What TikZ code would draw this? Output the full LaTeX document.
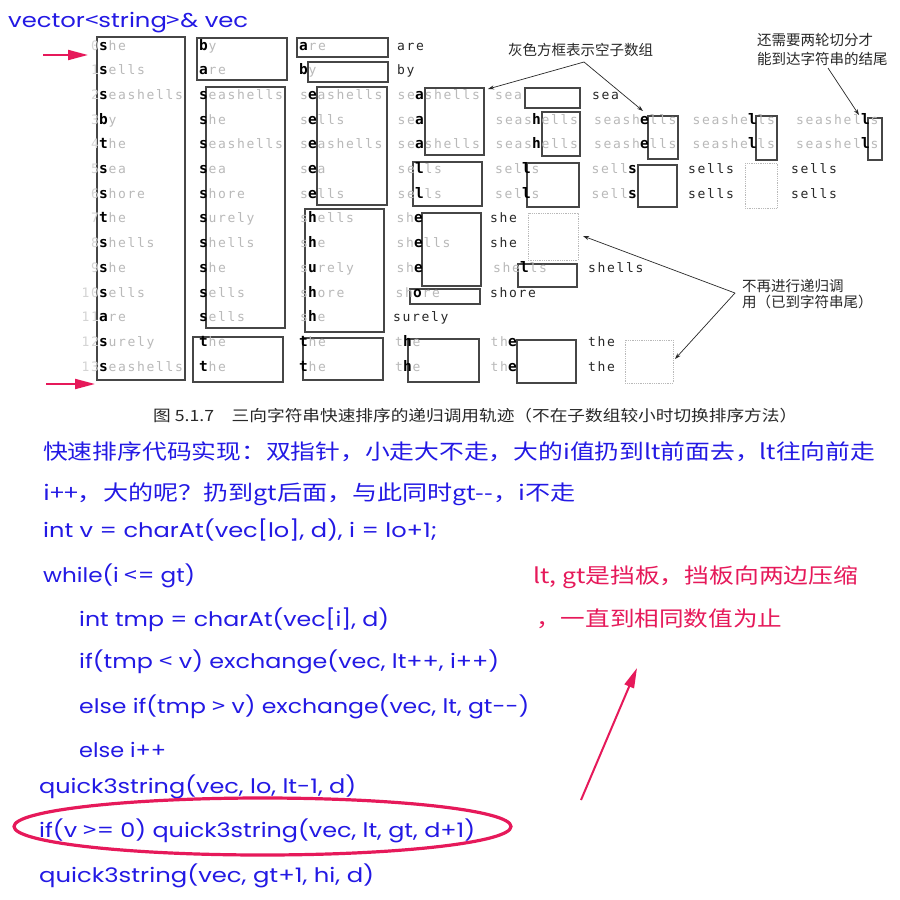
\documentclass[tikz,border=0pt]{standalone}
\usepackage{fontspec}
\usepackage{graphicx}
\usetikzlibrary{arrows.meta}
\setmainfont{DejaVu Sans}
\newfontfamily\cjk{Noto Sans CJK SC}
\newfontfamily\goth{Poppins}
\newfontfamily\tmono{DejaVu Sans Mono}[LetterSpace=13]
\definecolor{faint}{RGB}{185,185,185}
\definecolor{fainter}{RGB}{212,212,212}
\definecolor{ink}{RGB}{40,40,40}
\definecolor{boxc}{RGB}{70,70,70}
\definecolor{blu}{RGB}{35,25,228}
\definecolor{rd}{RGB}{230,25,90}
\newcommand\fitw[2]{\resizebox{#1}{\height}{#2}}
\newcommand\lsym{{\cjk <}}
\newcommand\gsym{{\cjk >}}
\newcommand\wrd[5]{%
  \node[fnt,anchor=base east] at (#1,{50+24.7*#2}) {#3};%
  \node[bld,anchor=base west] at (#1,{50+24.7*#2}) {#4};%
  \node[fnt,anchor=base west] at ({#1+9.5},{50+24.7*#2}) {#5};}
\newcommand\fin[3]{\node[finw] at (#1,{50+24.7*#2}) {#3};}
\begin{document}
\begin{tikzpicture}[x=1pt,y=-1pt,
  fnt/.style={inner sep=0pt,outer sep=0pt,text=faint,font=\tmono\fontsize{13}{13}\selectfont},
  bld/.style={inner sep=0pt,outer sep=0pt,text=black,font=\tmono\bfseries\fontsize{14.5}{13}\selectfont},
  finw/.style={inner sep=0pt,outer sep=0pt,text=ink,anchor=base west,font=\tmono\fontsize{13}{13}\selectfont},
  bx/.style={draw=boxc,line width=1.1pt},
  gbx/.style={draw=faint,line width=0.8pt,densely dotted},
  note/.style={inner sep=0pt,anchor=base west,text=ink,font=\cjk\fontsize{14.5}{16}\selectfont},
  ann/.style={draw=ink,line width=0.7pt,-{Stealth[length=6pt,width=4pt]}},
  pk/.style={draw=rd,line width=2pt,-{Triangle[length=20pt,width=10pt]}},
  bl/.style={inner sep=0pt,anchor=base west,text=blu,font=\goth\fontsize{20}{24}\selectfont},
  blc/.style={inner sep=0pt,anchor=base west,text=blu,font=\cjk\fontsize{21}{24}\selectfont},
  rdc/.style={inner sep=0pt,anchor=base west,text=rd,font=\cjk\fontsize{21}{24}\selectfont},
  capt/.style={inner sep=0pt,anchor=base west,text=ink,font=\cjk\fontsize{15.5}{18}\selectfont}]
\fill[white] (0,0) rectangle (900,900);
\useasboundingbox (0,0) rectangle (900,900);

% ---------- column 0 ----------
\draw[bx] (97,37) rectangle (185,380);
\foreach \k in {0,...,13} \node[fnt,text=fainter,anchor=base east] at (99,{50+24.7*\k}) {\k};
\wrd{99}{0}{}{s}{he}
\wrd{99}{1}{}{s}{ells}
\wrd{99}{2}{}{s}{eashells}
\wrd{99}{3}{}{b}{y}
\wrd{99}{4}{}{t}{he}
\wrd{99}{5}{}{s}{ea}
\wrd{99}{6}{}{s}{hore}
\wrd{99}{7}{}{t}{he}
\wrd{99}{8}{}{s}{hells}
\wrd{99}{9}{}{s}{he}
\wrd{99}{10}{}{s}{ells}
\wrd{99}{11}{}{a}{re}
\wrd{99}{12}{}{s}{urely}
\wrd{99}{13}{}{s}{eashells}

% ---------- column 1 ----------
\draw[bx] (197,38) rectangle (287,80);
\draw[bx] (206,87) rectangle (285,328);
\draw[bx] (193,337) rectangle (283,382);
\wrd{199}{0}{}{b}{y}
\wrd{199}{1}{}{a}{re}
\wrd{199}{2}{}{s}{eashells}
\wrd{199}{3}{}{s}{he}
\wrd{199}{4}{}{s}{eashells}
\wrd{199}{5}{}{s}{ea}
\wrd{199}{6}{}{s}{hore}
\wrd{199}{7}{}{s}{urely}
\wrd{199}{8}{}{s}{hells}
\wrd{199}{9}{}{s}{he}
\wrd{199}{10}{}{s}{ells}
\wrd{199}{11}{}{s}{ells}
\wrd{199}{12}{}{t}{he}
\wrd{199}{13}{}{t}{he}

% ---------- column 2 ----------
\draw[bx] (297,38) rectangle (388,57);
\draw[bx] (308,62) rectangle (388,82);
\draw[bx] (317,87) rectangle (387,205);
\draw[bx] (305,209) rectangle (384,332);
\draw[bx] (303,338) rectangle (383,380);
\wrd{299}{0}{}{a}{re}
\wrd{299}{1}{}{b}{y}
\wrd{308}{2}{s}{e}{ashells}
\wrd{308}{3}{s}{e}{lls}
\wrd{308}{4}{s}{e}{ashells}
\wrd{308}{5}{s}{e}{a}
\wrd{308}{6}{s}{e}{lls}
\wrd{308}{7}{s}{h}{ells}
\wrd{308}{8}{s}{h}{e}
\wrd{308}{9}{s}{u}{rely}
\wrd{308}{10}{s}{h}{ore}
\wrd{308}{11}{s}{h}{e}
\wrd{299}{12}{}{t}{he}
\wrd{299}{13}{}{t}{he}
\fin{397}{0}{are}
\fin{397}{1}{by}

% ---------- column 3 ----------
\draw[bx] (425,88) rectangle (484,155);
\draw[bx] (413,162) rectangle (482,206);
\draw[bx] (422,213) rectangle (481,286);
\draw[bx] (410,289) rectangle (480,304);
\draw[bx] (408,339) rectangle (479,382);
\wrd{415}{2}{se}{a}{shells}
\wrd{415}{3}{se}{a}{}
\wrd{415}{4}{se}{a}{shells}
\wrd{415}{5}{se}{l}{ls}
\wrd{415}{6}{se}{l}{ls}
\wrd{414}{7}{sh}{e}{}
\wrd{414}{8}{sh}{e}{lls}
\wrd{414}{9}{sh}{e}{}
\wrd{413}{10}{sh}{o}{re}
\fin{393}{11}{surely}
\wrd{403}{12}{t}{h}{e}
\wrd{403}{13}{t}{h}{e}

% ---------- column 4 ----------
\draw[bx] (525,88) rectangle (580,108);
\draw[bx] (542,112) rectangle (580,156);
\draw[bx] (527,163) rectangle (579,207);
\draw[gbx] (528,213) rectangle (578,260);
\draw[bx] (518,264) rectangle (577,287);
\draw[bx] (517,340) rectangle (576,383);
\wrd{522}{2}{sea}{}{}
\wrd{532}{3}{seas}{h}{ells}
\wrd{532}{4}{seas}{h}{ells}
\wrd{522}{5}{sel}{l}{s}
\wrd{522}{6}{sel}{l}{s}
\fin{490}{7}{she}
\fin{490}{8}{she}
\wrd{520}{9}{she}{l}{ls}
\fin{490}{10}{shore}
\wrd{508}{12}{th}{e}{}
\wrd{508}{13}{th}{e}{}
\fin{592}{2}{sea}
\fin{588}{9}{shells}
\fin{588}{12}{the}
\fin{588}{13}{the}
\draw[gbx] (625,340) rectangle (673,383);

% ---------- column 5 ----------
\draw[bx] (648,116) rectangle (678,159);
\draw[bx] (638,165) rectangle (677,207);
\wrd{640}{3}{seash}{e}{lls}
\wrd{640}{4}{seash}{e}{lls}
\wrd{628}{5}{sell}{s}{}
\wrd{628}{6}{sell}{s}{}

% ---------- column 6 ----------
\draw[bx] (756,116) rectangle (777,160);
\draw[gbx] (745,163) rectangle (777,208);
\wrd{748}{3}{seashe}{l}{ls}
\wrd{748}{4}{seashe}{l}{ls}
\fin{688}{5}{sells}
\fin{688}{6}{sells}

% ---------- column 7 ----------
\draw[bx] (868,118) rectangle (882,160);
\wrd{861}{3}{seashel}{l}{s}
\wrd{861}{4}{seashel}{l}{s}
\fin{791}{5}{sells}
\fin{791}{6}{sells}

% ---------- annotations ----------
\node[note] (na) at (508,55) {灰色方框表示空子数组};
\node[note] (nb1) at (757,45) {还需要两轮切分才};
\node[note] (nb2) at (757,64) {能到达字符串的结尾};
\node[note] (nc1) at (742,291) {不再进行递归调};
\node[note] (nc2) at (742,307) {用（已到字符串尾）};
\coordinate (g0) at (584,62);
\coordinate (g1) at (488,89);
\coordinate (g2) at (643,111);
\coordinate (h0) at (828,68);
\coordinate (h1) at (859,115);
\coordinate (k0) at (735,293);
\coordinate (k1) at (583,236);
\coordinate (k2) at (675,359);
\draw[ann] (g0) -- (g1);
\draw[ann] (g0) -- (g2);
\draw[ann] (h0) -- (h1);
\draw[ann] (k0) -- (k1);
\draw[ann] (k0) -- (k2);

\node[capt] (cp) at (153,421) {\fitw{644pt}{图 5.1.7\hspace{1em}三向字符串快速排序的递归调用轨迹（不在子数组较小时切换排序方法）}};

% ---------- pink arrows ----------
\coordinate (pa1) at (43,55);
\coordinate (pb1) at (88,55);
\coordinate (pa2) at (46,384);
\coordinate (pb2) at (95,384);
\draw[pk] (pa1) -- (pb1);
\draw[pk] (pa2) -- (pb2);

% ---------- blue notes ----------
\node[bl] (hd) at (8,27) {\fitw{240pt}{vector\lsym string\gsym\& vec}};
\node[blc] (t1) at (43,459) {\fitw{832pt}{快速排序代码实现：双指针，小走大不走，大的i值扔到lt前面去，lt往向前走}};
\node[blc] (t2) at (43,500) {\fitw{532pt}{i++，大的呢？扔到gt后面，与此同时gt-\kern0pt-，i不走}};
\node[bl] (c1) at (43,537) {\fitw{394pt}{int v = charAt(vec[lo], d), i = lo+1;}};
\node[bl] (c2) at (43,582) {\fitw{152pt}{while(i \lsym= gt)}};
\node[bl] (c3) at (79,626) {\fitw{310pt}{int tmp = charAt(vec[i], d)}};
\node[bl] (c4) at (79,668) {\fitw{420pt}{if(tmp \lsym{} v) exchange(vec, lt++, i++)}};
\node[bl] (c5) at (79,713) {\fitw{450pt}{else if(tmp \gsym{} v) exchange(vec, lt, gt-\kern0pt-)}};
\node[bl] (c6) at (79,757) {\fitw{87pt}{else i++}};
\node[bl] (c7) at (39,793) {\fitw{317pt}{quick3string(vec, lo, lt-1, d)}};
\node[bl] (c8) at (39,837) {\fitw{436pt}{if(v \gsym= 0) quick3string(vec, lt, gt, d+1)}};
\node[bl] (c9) at (39,882) {\fitw{335pt}{quick3string(vec, gt+1, hi, d)}};

% ---------- red notes ----------
\node[rdc] (r1t) at (533,583) {\fitw{325pt}{lt, gt是挡板，挡板向两边压缩}};
\node[rdc] (r2t) at (536,626) {\fitw{246pt}{，一直到相同数值为止}};
\draw[rd,line width=3.2pt] (262.5,826.5) ellipse [x radius=248.5pt, y radius=28.5pt];
\coordinate (ra) at (581,800);
\coordinate (rb) at (637,668);
\draw[pk] (ra) -- (rb);
\end{tikzpicture}
\end{document}
